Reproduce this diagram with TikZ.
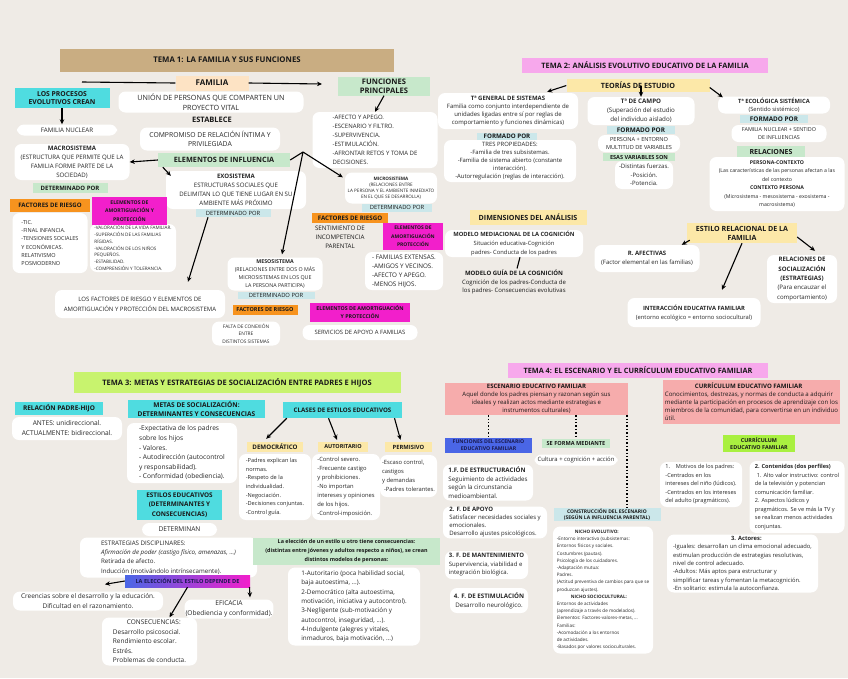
\documentclass[tikz,border=0pt]{standalone}
\usepackage{fontspec}
\setmainfont{Open Sans}
\usetikzlibrary{arrows.meta}
\definecolor{bgc}{HTML}{EFEBE6}
\definecolor{tanc}{HTML}{C9AD82}
\definecolor{peachc}{HTML}{FDE3C4}
\definecolor{cyanc}{HTML}{4FDCE0}
\definecolor{greenc}{HTML}{C7E8CB}
\definecolor{lbluec}{HTML}{CBE7EA}
\definecolor{orangec}{HTML}{F7931E}
\definecolor{magc}{HTML}{F21FCB}
\definecolor{pinkc}{HTML}{F7A8EC}
\definecolor{yelc}{HTML}{FCE8A8}
\definecolor{limec}{HTML}{C8F36E}
\definecolor{salmonc}{HTML}{F6ACAC}
\definecolor{bluec}{HTML}{4A66E6}
\definecolor{limeb}{HTML}{A9F040}
\definecolor{navyc}{HTML}{1A1A50}
\newcommand{\myfs}[2]{\fontsize{#1}{#2}\selectfont}
\tikzset{
 blob/.style={fill=white, rounded corners=7pt, inner sep=1pt, align=center, text=black!85},
 lab/.style={inner sep=1pt, align=center, text=black!90},
 sz/.style 2 args={minimum width=#1pt, minimum height=#2pt},
 arr/.style={line width=1.1pt, -{Stealth[length=5pt,width=4.5pt]}},
 plainline/.style={line width=1.1pt},
 dotl/.style={line width=1.4pt, dotted},
}
\begin{document}
\begin{tikzpicture}[x=1pt,y=-1pt]
\fill[bgc] (0,0) rectangle (848,678);
\useasboundingbox (0,0) rectangle (848,678);

% ================= TEMA 1
\node[lab,fill=tanc,sz={334}{23},font=\myfs{7.8}{9}\bfseries] (t1) at (227,60) {TEMA 1: LA FAMILIA Y SUS FUNCIONES};
\node[lab,fill=peachc,sz={73}{15},font=\myfs{8}{9}\bfseries] (familia) at (212,83) {FAMILIA};
\node[lab,fill=cyanc,sz={95}{20},font=\myfs{6.8}{8.5}\bfseries] (procesos) at (62,98) {LOS PROCESOS\\EVOLUTIVOS CREAN};
\coordinate (lp) at (82,82);
\coordinate (fa) at (322,84);
\node[blob,sz={100}{11},font=\myfs{6.2}{8}] (fnuclear) at (67,130) {FAMILIA NUCLEAR};
\node[blob,sz={185}{21},font=\myfs{7.2}{9.5}] (union) at (211,102) {UNIÓN DE PERSONAS QUE COMPARTEN UN\\PROYECTO VITAL};
\node[lab,font=\myfs{7.5}{9}\bfseries] (establece) at (212,120) {ESTABLECE};
\node[blob,sz={140}{23},font=\myfs{6.8}{9.5}] (compromiso) at (210,139) {COMPROMISO DE RELACIÓN ÍNTIMA Y\\PRIVILEGIADA};
\node[lab,fill=greenc,sz={132}{14},font=\myfs{7.3}{9}\bfseries] (elementos) at (224,160) {ELEMENTOS DE INFLUENCIA};
\node[blob,sz={115}{36},font=\myfs{6.1}{9}] (macro) at (72,162) {\textbf{MACROSISTEMA}\\(ESTRUCTURA QUE PERMITE QUE LA\\FAMILIA FORME PARTE DE LA\\SOCIEDAD)};
\node[lab,fill=greenc,sz={75}{10},font=\myfs{6}{7}\bfseries] (det1) at (70,188) {DETERMINADO POR};
\node[blob,sz={140}{38},font=\myfs{6.1}{8.8}] (exo) at (236,190) {\textbf{EXOSISTEMA}\\ESTRUCTURAS SOCIALES QUE\\DELIMITAN LO QUE TIENE LUGAR EN SU\\AMBIENTE MÁS PRÓXIMO};
\node[lab,fill=lbluec,sz={75}{8},font=\myfs{5.8}{7}] (det2) at (233,213) {DETERMINADO POR};
\coordinate (fork) at (303,152);
\node[lab,fill=greenc,sz={92}{19},font=\myfs{7.6}{9}\bfseries] (funciones) at (384,86) {FUNCIONES\\PRINCIPALES};
\node[blob,sz={125}{56},align=left,font=\myfs{6}{9}] (funlist) at (375,140) {-AFECTO Y APEGO.\\-ESCENARIO Y FILTRO.\\-SUPERVIVENCIA.\\-ESTIMULACIÓN.\\-AFRONTAR RETOS Y TOMA DE\\DECISIONES.};
\node[blob,sz={92}{31},font=\myfs{4.6}{6}] (micro) at (391,188) {\textbf{MICROSISTEMA}\\(RELACIONES ENTRE\\LA PERSONA Y EL AMBIENTE INMEDIATO\\EN EL QUE SE DESARROLLA)};
\node[lab,fill=lbluec,sz={70}{8},font=\myfs{5.8}{7}] (det3) at (397,207.5) {DETERMINADO POR};
\node[lab,fill=orangec,sz={76}{10},font=\myfs{6.2}{7}\bfseries] (fr2) at (350,218) {FACTORES DE RIESGO};
\node[lab,font=\myfs{6.2}{9}] (sentim) at (340,237) {SENTIMIENTO DE\\INCOMPETENCIA\\PARENTAL};
\node[lab,fill=magc,sz={60}{27},font=\myfs{5}{8.5}\bfseries] (ea2) at (413,236.5) {ELEMENTOS DE\\AMORTIGUACIÓN\\PROTECCIÓN};
\node[blob,sz={78}{38},align=left,font=\myfs{6.3}{9}] (famlist) at (404,271) {- FAMILIAS EXTENSAS.\\-AMIGOS Y VECINOS.\\-AFECTO Y APEGO.\\-MENOS HIJOS.};
\node[blob,sz={95}{33},font=\myfs{5.3}{8.3}] (meso) at (275,274) {\textbf{MESOSISTEMA}\\(RELACIONES ENTRE DOS O MÁS\\MICROSISTEMAS EN LOS QUE\\LA PERSONA PARTICIPA)};
\node[lab,fill=lbluec,sz={77}{7},font=\myfs{5.8}{7}] (det4) at (276,295.5) {DETERMINADO POR};
\node[lab,fill=orangec,sz={65}{10},font=\myfs{5.5}{7}\bfseries] (fr3) at (265,310) {FACTORES DE RIESGO};
\node[lab,fill=magc,sz={100}{19},font=\myfs{5.3}{8}\bfseries] (ea3) at (360,312.5) {ELEMENTOS DE AMORTIGUACIÓN\\Y PROTECCIÓN};
\node[blob,sz={115}{15},font=\myfs{5.9}{8}] (servicios) at (360,332.5) {SERVICIOS DE APOYO A FAMILIAS};
\node[blob,sz={68}{24},font=\myfs{4.8}{7.5}] (falta) at (246,333.5) {FALTA DE CONEXIÓN\\ENTRE\\DISTINTOS SISTEMAS};
\node[lab,fill=orangec,sz={80}{13},font=\myfs{6.1}{7}\bfseries] (fr1) at (50,205.5) {FACTORES DE RIESGO};
\node[blob,sz={75}{60},align=left,font=\myfs{5.5}{8.2}] (rlist) at (50,243) {-TIC.\\-FINAL INFANCIA.\\-TENSIONES SOCIALES\\Y ECONÓMICAS.\\RELATIVISMO\\POSMODERNO};
\node[blob,sz={86}{48},align=left,font=\myfs{4.6}{6.8}] (plist) at (133,248) {-VALORACIÓN DE LA VIDA FAMILIAR.\\-SUPERACIÓN DE LAS FAMILIAS\\RÍGIDAS.\\-VALORACIÓN DE LOS NIÑOS\\PEQUEÑOS.\\-ESTABILIDAD.\\-COMPRENSIÓN Y TOLERANCIA.};
\node[lab,fill=magc,sz={75}{28},font=\myfs{5.1}{8.8}\bfseries] (ea1) at (129.5,211) {ELEMENTOS DE\\AMORTIGUACIÓN Y\\PROTECCIÓN};
\node[blob,sz={170}{28},font=\myfs{6}{10}] (macrofr) at (140,304) {LOS FACTORES DE RIESGO Y ELEMENTOS DE\\AMORTIGUACIÓN Y PROTECCIÓN DEL MACROSISTEMA};

\draw[plainline] (familia.west) -- (lp);
\draw[arr] (familia.east) -- (fa);
\draw[arr] (procesos.south) -- (procesos.south |- fnuclear.north);
\draw[arr] (elementos.west) -- (macro.east);
\draw[arr] ([xshift=5pt]elementos.south west) -- ([xshift=5pt,yshift=-5pt]exo.north west);
\draw[plainline] (elementos.east) -- (fork);
\draw[arr] (fork) -- ([xshift=-2pt,yshift=-5pt]micro.north west);
\draw[arr] (fork) -- ([xshift=7pt,yshift=3pt]meso.north);
\draw[arr] (funciones.south) -- (funlist.north);
\draw[arr] ([xshift=-25pt]det2.south) -- ([xshift=48pt,yshift=8pt]macrofr.north);

% ================= TEMA 2
\node[lab,fill=pinkc,sz={246}{15},font=\myfs{7.4}{9}\bfseries] (t2) at (645,65.5) {TEMA 2: ANÁLISIS EVOLUTIVO EDUCATIVO DE LA FAMILIA};
\node[lab,fill=yelc,sz={143}{13},font=\myfs{7.2}{9}\bfseries] (teorias) at (638,85.5) {TEORÍAS DE ESTUDIO};
\node[blob,sz={140}{36},font=\myfs{6}{8.2}] (tgs) at (508,111) {\textbf{Tª GENERAL DE SISTEMAS}\\Familia como conjunto interdependiente de\\unidades ligadas entre sí por reglas de\\comportamiento y funciones dinámicas)};
\node[lab,fill=lbluec,sz={60}{7.5},font=\myfs{6.2}{7}\bfseries] (fp1) at (507,136.5) {FORMADO POR};
\node[blob,sz={132}{42},font=\myfs{5.9}{8}] (tgslist) at (510,161) {TRES PROPIEDADES:\\-Familia de tres subsistemas.\\-Familia de sistema abierto (constante\\interacción).\\-Autorregulación (reglas de interacción).};
\node[blob,sz={107}{28},font=\myfs{6.2}{9}] (campo) at (641,111) {\textbf{Tª DE CAMPO}\\(Superación del estudio\\del individuo aislado)};
\node[lab,fill=lbluec,sz={68}{8},font=\myfs{6.4}{7}\bfseries] (fp2) at (641,130) {FORMADO POR};
\node[blob,sz={82}{17},font=\myfs{5.6}{8}] (pe) at (639,143.5) {PERSONA + ENTORNO\\MULTITUD DE VARIABLES};
\node[lab,fill=greenc,sz={72}{8},font=\myfs{5.6}{7}\bfseries] (esas) at (639,157) {ESAS VARIABLES SON};
\node[blob,sz={58}{28},font=\myfs{6}{8.3}] (fuerzas) at (644,175) {-Distintas fuerzas.\\-Posición.\\-Potencia.};
\node[blob,sz={112}{17},font=\myfs{5.8}{8}] (eco) at (774,105) {\textbf{Tª ECOLÓGICA SISTÉMICA}\\(Sentido sistémico)};
\node[lab,fill=lbluec,sz={68}{8},font=\myfs{6.4}{7}\bfseries] (fp3) at (774,119) {FORMADO POR};
\node[blob,sz={95}{17},font=\myfs{5.4}{7.5}] (fn) at (779,133.5) {FAMILIA NUCLEAR + SENTIDO\\DE INFLUENCIAS};
\node[lab,fill=greenc,sz={68}{12},font=\myfs{7}{8}\bfseries] (rel) at (771,152) {RELACIONES};
\node[blob,sz={135}{54},font=\myfs{5.2}{8.4}] (pc) at (777,184) {\textbf{PERSONA-CONTEXTO}\\(Las características de las personas afectan a las\\del contexto\\\textbf{CONTEXTO PERSONA}\\(Microsistema - mesosistema - exosistema -\\macrosistema)};
\node[lab,fill=yelc,sz={117}{15},font=\myfs{7.1}{9}\bfseries] (dim) at (528,217.5) {DIMENSIONES DEL ANÁLISIS};
\node[blob,sz={138}{27},font=\myfs{5.8}{8.8}] (mmc) at (514,243.5) {\textbf{MODELO MEDIACIONAL DE LA COGNICIÓN}\\Situación educativa-Cognición\\padres- Conducta de los padres};
\node[lab,font=\myfs{6}{8.8}] (mgc) at (514,282) {\textbf{MODELO GUÍA DE LA COGNICIÓN}\\Cognición de los padres-Conducta de\\los padres- Consecuencias evolutivas};
\node[lab,fill=yelc,sz={110}{20},font=\myfs{7.1}{9}\bfseries] (estilo) at (742,233) {ESTILO RELACIONAL DE LA\\FAMILIA};
\node[blob,sz={105}{27},font=\myfs{6}{9}] (raf) at (647,258.5) {\textbf{R. AFECTIVAS}\\(Factor elemental en las familias)};
\node[blob,sz={133}{29},font=\myfs{5.8}{9}] (ief) at (694,312.5) {\textbf{INTERACCIÓN EDUCATIVA FAMILIAR}\\(entorno ecológico = entorno sociocultural)};
\node[blob,sz={70}{48},font=\myfs{6.1}{9.3}] (rs) at (802,279) {\textbf{RELACIONES DE}\\\textbf{SOCIALIZACIÓN}\\\textbf{(ESTRATEGIAS)}\\(Para encauzar el\\comportamiento)};

\draw[arr] (teorias.west) -- ([xshift=-31pt,yshift=1pt]tgs.north east);
\draw[arr] (teorias.center -| campo.north) -- (campo.north);
\draw[arr] ([yshift=-2pt]teorias.east) -- ([xshift=5pt,yshift=-1pt]eco.north west);
\draw[plainline] ([xshift=6pt]mmc.south) -- ([xshift=3pt]mgc.north);
\draw[arr] ([xshift=3pt,yshift=3pt]estilo.south west) -- ([xshift=-18pt]raf.north east);
\draw[arr] (estilo.south) -- ([xshift=28pt,yshift=8pt]ief.north);
\draw[arr] ([yshift=-4pt]estilo.east) -- ([xshift=13pt,yshift=4pt]rs.north);

% ================= TEMA 3
\node[lab,fill=limec,sz={327}{21},font=\myfs{7.5}{9}\bfseries] (t3) at (237,382.5) {TEMA 3: METAS Y ESTRATEGIAS DE SOCIALIZACIÓN ENTRE PADRES E HIJOS};
\node[lab,fill=cyanc,sz={88}{13},font=\myfs{6.5}{8}\bfseries] (rph) at (59,408.5) {RELACIÓN PADRE-HIJO};
\node[blob,sz={110}{23},font=\myfs{6.6}{10}] (antes) at (67,428.5) {ANTES: unidireccional.\\ACTUALMENTE: bidireccional.};
\node[lab,fill=cyanc,sz={137}{18},font=\myfs{6.6}{8.5}\bfseries] (metas) at (196.5,409) {METAS DE SOCIALIZACIÓN:\\DETERMINANTES Y CONSECUENCIAS};
\node[blob,sz={110}{60},align=left,font=\myfs{6.6}{9.6}] (metaslist) at (182,453) {-Expectativa de los padres\\sobre los hijos\\- Valores.\\- Autodirección (autocontrol\\y responsabilidad).\\- Conformidad (obediencia).};
\node[lab,fill=cyanc,sz={119}{16},font=\myfs{6.2}{8}\bfseries] (clases) at (342.5,410) {CLASES DE ESTILOS EDUCATIVOS};
\node[lab,fill=yelc,sz={56}{10},font=\myfs{6.2}{7}\bfseries] (demo) at (275,447) {DEMOCRÁTICO};
\node[blob,sz={72}{66},align=left,font=\myfs{5.6}{8.7}] (demolist) at (275,487) {-Padres explican las\\normas.\\-Respeto de la\\individualidad.\\-Negociación.\\-Decisiones conjuntas.\\-Control guía.};
\node[lab,fill=yelc,sz={50}{10},font=\myfs{5.5}{7}\bfseries] (autor) at (343,447) {AUTORITARIO};
\node[blob,sz={68}{66},align=left,font=\myfs{5.8}{9}] (autolist) at (346,487) {-Control severo.\\-Frecuente castigo\\y prohibiciones.\\-No importan\\intereses y opiniones\\de los hijos.\\-Control-imposición.};
\node[lab,fill=yelc,sz={47}{10},font=\myfs{5.8}{7}\bfseries] (perm) at (408.5,447) {PERMISIVO};
\node[blob,sz={57}{42},align=left,font=\myfs{5.8}{9}] (permlist) at (408.5,476) {-Escaso control,\\castigos\\y demandas\\\hspace{2pt}-Padres tolerantes.};
\node[lab,fill=cyanc,sz={85}{30},font=\myfs{6.4}{9.3}\bfseries] (estilos) at (179.5,505) {ESTILOS EDUCATIVOS\\(DETERMINANTES Y\\CONSECUENCIAS)};
\node[blob,sz={75}{13},font=\myfs{6.6}{8}] (determinan) at (179.5,529.5) {DETERMINAN};
\node[blob,sz={177}{40},align=left,font=\myfs{6.2}{9.3}] (estrat) at (168.5,557.5) {ESTRATEGIAS DISCIPLINARES:\\\textit{Afirmación de poder (castigo físico, amenazas, ...)}\\Retirada de afecto.\\Inducción (motivándolo intrínsecamente).};
\node[lab,left color=bluec,right color=magc,sz={125}{12},font=\myfs{5.6}{7}\bfseries,text=navyc] (eleccion) at (187.5,581) {LA ELECCIÓN DEL ESTILO DEPENDE DE};
\node[blob,sz={150}{19},font=\myfs{6.5}{10}] (creencias) at (88,601) {Creencias sobre el desarrollo y la educación.\\Dificultad en el razonamiento.};
\node[blob,sz={88}{19},font=\myfs{6.6}{10}] (eficacia) at (229,609) {EFICACIA\\(Obediencia y conformidad).};
\node[blob,sz={95}{48},align=left,font=\myfs{6.5}{9.5}] (consec) at (149.5,641.5) {\hspace{14pt}CONSECUENCIAS:\\Desarrollo psicosocial.\\Rendimiento escolar.\\Estrés.\\Problemas de conducta.};
\node[lab,fill=greenc,sz={187}{27},font=\myfs{5.4}{8.6}\bfseries] (consmod) at (346.5,551) {La elección de un estilo u otro tiene consecuencias:\\(distintas entre jóvenes y adultos respecto a niños), se crean\\distintos modelos de personas:};
\node[blob,sz={132}{78},align=left,font=\myfs{6.3}{9.3}] (modlist) at (354,606.5) {1-Autoritario (poca habilidad social,\\baja autoestima, ...).\\2-Democrático (alta autoestima,\\motivación, iniciativa y autocontrol).\\3-Negligente (sub-motivación y\\autocontrol, inseguridad, ...).\\4-Indulgente (alegres y vitales,\\inmaduros, baja motivación, ...)};

\draw[arr] ([xshift=4pt]clases.south west) -- ([xshift=-37pt,yshift=3pt]demo.north east);
\draw[arr] ([xshift=-14pt]clases.south) -- ([xshift=-6pt,yshift=2pt]autor.north);
\draw[arr] ([xshift=52pt]clases.south) -- ([xshift=-8pt,yshift=2pt]perm.north);
\draw[arr] (eleccion.west) -- ([xshift=17pt,yshift=7pt]creencias.north);
\draw[arr] (eleccion.south) -- ([xshift=20pt]consec.north);
\draw[arr] ([xshift=62pt]eleccion.south) -- ([xshift=21pt,yshift=2pt]eficacia.north);

% ================= TEMA 4
\node[lab,fill=pinkc,sz={260}{15},font=\myfs{7.3}{9}\bfseries] (t4) at (638,370.5) {TEMA 4: EL ESCENARIO Y EL CURRÍCULUM EDUCATIVO FAMILIAR};
\node[lab,fill=salmonc,sz={183}{32},font=\myfs{6}{8}] (esc) at (536.5,399) {\textbf{ESCENARIO EDUCATIVO FAMILIAR}\\Aquel donde los padres piensan y razonan según sus\\ideales y realizan actos mediante estrategias e\\instrumentos culturales)};
\node[lab,fill=bluec,sz={87}{15},font=\myfs{5.2}{7}\bfseries,text=navyc] (funesc) at (488.5,445.5) {FUNCIONES DEL ESCENARIO\\EDUCATIVO FAMILIAR};
\node[lab,fill=greenc,sz={68}{9},font=\myfs{5.6}{7}\bfseries] (seforma) at (576,443.5) {SE FORMA MEDIANTE};
\node[blob,sz={83}{11},font=\myfs{5.9}{8}] (cultura) at (576,460) {Cultura + cognición + acción};
\node[blob,sz={90}{36},align=left,font=\myfs{6.2}{8.7}] (f1) at (488,482.5) {\textbf{1.F. DE ESTRUCTURACIÓN}\\Seguimiento de actividades\\según la circunstancia\\medioambiental.};
\node[blob,sz={104}{31},align=left,font=\myfs{6}{8}] (f2) at (495,522.5) {\textbf{2. F. DE APOYO}\\Satisfacer necesidades sociales y\\emocionales.\\Desarrollo ajustes psicológicos.};
\node[blob,sz={83}{28},align=left,font=\myfs{6}{8.5}] (f3) at (486.5,565) {\textbf{3. F. DE MANTENIMIENTO}\\Supervivencia, viabilidad e\\integración biológica.};
\node[blob,sz={78}{25},font=\myfs{6.2}{9}] (f4) at (489,600.5) {\textbf{4. F. DE ESTIMULACIÓN}\\Desarrollo neurológico.};
\node[lab,fill=lbluec,sz={107}{13},font=\myfs{5}{6.5}\bfseries] (constr) at (607,514.5) {CONSTRUCCIÓN DEL ESCENARIO\\(SEGÚN LA INFLUENCIA PARENTAL)};
\node[blob,sz={100}{127},align=left,font=\myfs{4.6}{7.2}] (nicho) at (603,590) {\hspace{18pt}\textbf{NICHO EVOLUTIVO:}\\-Entorno interactivo (subsistemas:\\Entornos físicos y sociales.\\Costumbres (pautas).\\Psicología de los cuidadores.\\-Adaptación mutua:\\Padres.\\(Actitud preventiva de cambios para que se\\produzcan ajustes).\\\hspace{14pt}\textbf{NICHO SOCIOCULTURAL:}\\Entornos de actividades\\(aprendizaje a través de modelados).\\Elementos: Factores-valores-metas, ...\\Familias:\\-Acomodación a los entornos\\de actividades.\\-Basados por valores socioculturales.};
\node[lab,fill=salmonc,sz={177}{44},align=left,font=\myfs{6.1}{8}] (curr) at (751.5,402) {\hspace{30pt}\textbf{CURRÍCULUM EDUCATIVO FAMILIAR}\\Conocimientos, destrezas, y normas de conducta a adquirir\\mediante la participación en procesos de aprendizaje con los\\miembros de la comunidad, para convertirse en un individuo\\útil.};
\node[lab,fill=limeb,sz={72}{17},font=\myfs{5.4}{7.5}\bfseries] (currb) at (759,443.5) {CURRÍCULUM\\EDUCATIVO FAMILIAR};
\node[blob,sz={82}{45},align=left,font=\myfs{5.6}{8.5}] (motivos) at (701,484.5) {1.\quad Motivos de los padres:\\-Centrados en los\\intereses del niño (lúdicos).\\-Centrados en los intereses\\del adulto (pragmáticos).};
\node[blob,sz={95}{72},align=left,font=\myfs{5.6}{8.5}] (contenidos) at (797,497) {\textbf{2. Contenidos (dos perfiles)}\\\hspace{2pt}1. Alto valor instructivo: control\\de la televisión y potencian\\comunicación familiar.\\2. Aspectos lúdicos y\\pragmáticos. Se ve más la TV y\\se realizan menos actividades\\conjuntas.};
\node[blob,sz={151}{58},align=left,font=\myfs{5.8}{8.4}] (actores) at (742.5,563.5) {\hspace{58pt}\textbf{3. Actores:}\\-Iguales: desarrollan un clima emocional adecuado,\\estimulan producción de estrategias resolutivas,\\nivel de control adecuado.\\-Adultos: Más aptos para estructurar y\\simplificar tareas y fomentan la metacognición.\\-En solitario: estimula la autoconfianza.};

\coordinate (cx) at (627,0);
\draw[dotl] (esc.south -| funesc.north) -- (funesc.north);
\draw[dotl] (esc.south -| seforma.north) -- (seforma.north);
\draw[dotl] (esc.south -| cx) -- (constr.north -| cx);
\end{tikzpicture}
\end{document}
